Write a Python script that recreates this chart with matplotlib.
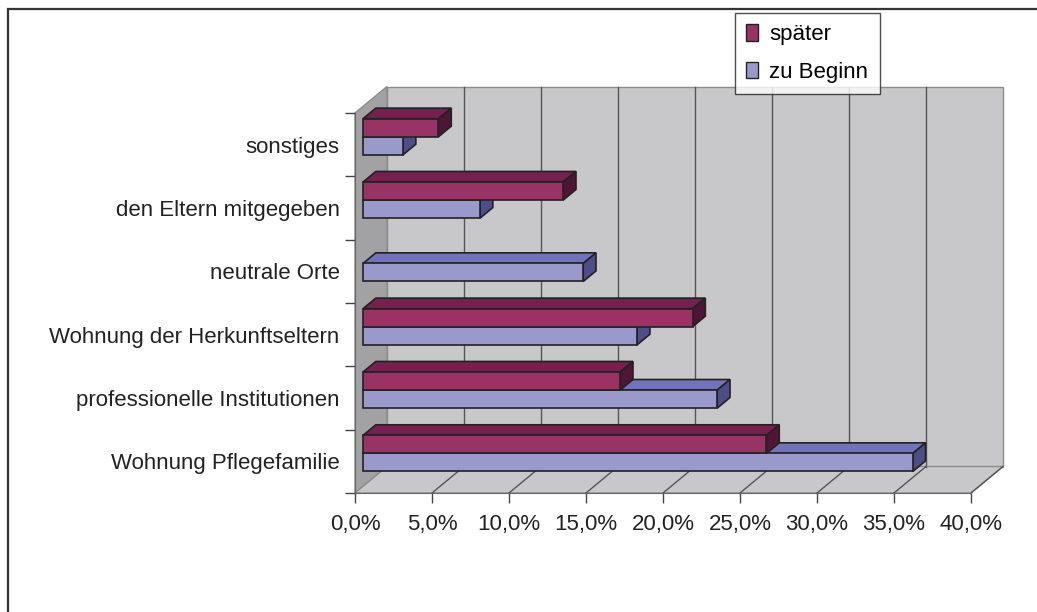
import matplotlib
matplotlib.use("Agg")
import matplotlib.pyplot as plt
from matplotlib.patches import Polygon, Patch, Rectangle
from matplotlib.ticker import FuncFormatter

plt.rcParams['font.family'] = ['Liberation Sans', 'DejaVu Sans']

# data (bottom to top)
categories = ["Wohnung Pflegefamilie", "professionelle Institutionen",
              "Wohnung der Herkunftseltern", "neutrale Orte",
              "den Eltern mitgegeben", "sonstiges"]
zu_beginn = [35.7, 23.0, 17.8, 14.3, 7.6, 2.6]
spaeter = [26.2, 16.7, 21.4, 0.0, 13.0, 4.9]
series_names = ["später", "zu Beginn"]
x_ticks = [0, 5, 10, 15, 20, 25, 30, 35, 40]

W, H = 1037, 612
fig = plt.figure(figsize=(W / 100, H / 100), dpi=100)
# outer frame, only top and left edges are inside the picture
fig.patches.append(Rectangle((8 / W, -0.1), 1.2, 1.1 - 9 / H, transform=fig.transFigure,
                             fill=False, edgecolor="#333333", linewidth=1.6))

ax = fig.add_axes([355 / W, 1 - 493 / H, 616 / W, 380 / H])
xmax = 40
n = len(categories)
ax.set_xlim(0, xmax)
ax.set_ylim(0, n)

# depth of the 3d box in data units
Dx = 32 / (616 / xmax)
Dy = 26.5 / (380 / n)

wall = "#c8c8ca"
side_wall = "#a2a2a5"
edge = "#8c8c8c"

# back wall, side wall, floor
ax.add_patch(Polygon([(Dx, Dy), (xmax + Dx, Dy), (xmax + Dx, n + Dy), (Dx, n + Dy)],
                     closed=True, facecolor=wall, edgecolor=edge, lw=1, clip_on=False, zorder=1))
ax.add_patch(Polygon([(0, 0), (Dx, Dy), (Dx, n + Dy), (0, n)],
                     closed=True, facecolor=side_wall, edgecolor=edge, lw=1, clip_on=False, zorder=1))
ax.add_patch(Polygon([(0, 0), (xmax, 0), (xmax + Dx, Dy), (Dx, Dy)],
                     closed=True, facecolor=wall, edgecolor=edge, lw=1, clip_on=False, zorder=1))

# gridlines on back wall and floor
for t in x_ticks[1:-1]:
    ax.plot([t + Dx, t + Dx], [Dy, n + Dy], color="#555555", lw=1, clip_on=False, zorder=2)
for t in x_ticks[1:]:
    ax.plot([t, t + Dx], [0, Dy], color="#555555", lw=1, clip_on=False, zorder=2)

# bars
off = 0.25
depth = 0.4
ox, oy = off * Dx, off * Dy
bx, by = depth * Dx, depth * Dy
h = 0.285
gap = (1 - 2 * h) / 2 + 0.02

colors = {
    "zu Beginn": ("#9999cc", "#7373b9", "#4d4d87"),
    "später": ("#993366", "#771f4f", "#4f1535"),
}


def bar3d(v, y0, y1, cols):
    front, top, side = cols
    kw = dict(closed=True, edgecolor="#222222", lw=1.2, clip_on=False, zorder=3)
    ax.add_patch(Polygon([(ox, y1 + oy), (v + ox, y1 + oy), (v + ox + bx, y1 + oy + by),
                          (ox + bx, y1 + oy + by)], facecolor=top, **kw))
    ax.add_patch(Polygon([(v + ox, y0 + oy), (v + ox + bx, y0 + oy + by),
                          (v + ox + bx, y1 + oy + by), (v + ox, y1 + oy)], facecolor=side, **kw))
    ax.add_patch(Polygon([(ox, y0 + oy), (v + ox, y0 + oy), (v + ox, y1 + oy), (ox, y1 + oy)],
                         facecolor=front, **kw))


for i in range(n):
    y0 = i + gap
    if zu_beginn[i] > 0:
        bar3d(zu_beginn[i], y0, y0 + h, colors["zu Beginn"])
    if spaeter[i] > 0:
        bar3d(spaeter[i], y0 + h, y0 + 2 * h, colors["später"])

# axes styling
for s in ["top", "right"]:
    ax.spines[s].set_visible(False)
ax.spines["left"].set_color("#666666")
ax.spines["bottom"].set_color("#666666")
ax.spines["left"].set_zorder(2)
ax.spines["bottom"].set_zorder(2)
ax.patch.set_visible(False)

ax.set_xticks(x_ticks)
ax.xaxis.set_major_formatter(FuncFormatter(lambda v, p: f"{v:.1f}%".replace(".", ",")))
ax.tick_params(axis="x", direction="out", length=7, width=1, color="#444444",
               labelsize=16, pad=8, labelcolor="#222222")

ax.set_yticks(range(n + 1))
ax.set_yticklabels([])
ax.set_yticks([i + 0.5 for i in range(n)], minor=True)
ax.set_yticklabels(categories, minor=True)
ax.tick_params(axis="y", which="major", direction="out", length=7, width=1, color="#444444")
ax.tick_params(axis="y", which="minor", length=0, labelsize=16, pad=11, labelcolor="#222222")

handles = [Patch(facecolor=colors[s][0], edgecolor="#222222", lw=1) for s in series_names]
leg = fig.legend(handles, series_names, loc="upper left",
                 bbox_to_anchor=(735 / W, 1 - 13 / H), fontsize=16,
                 frameon=True, fancybox=False, borderaxespad=0,
                 handlelength=0.55, handleheight=0.75, handletextpad=0.5,
                 labelspacing=0.75, borderpad=0.5)
leg.get_frame().set_edgecolor("#222222")
leg.get_frame().set_linewidth(1)

fig.savefig("out.png", dpi=100)
